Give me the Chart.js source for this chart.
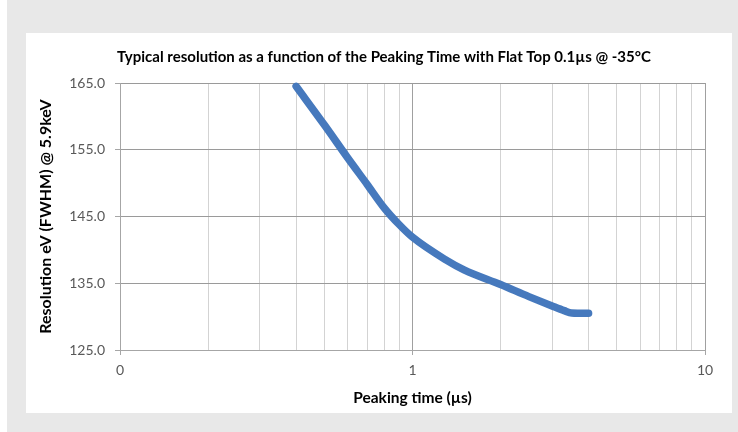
<!DOCTYPE html>
<html>
<head>
<meta charset="utf-8">
<script src="https://cdn.jsdelivr.net/npm/chart.js@4.4.1/dist/chart.umd.min.js"></script>
<style>
  html, body { margin: 0; padding: 0; background: #fff; }
  #frame { position: absolute; left: 7px; top: 0; width: 731px; height: 432px; background: #e8e8e8; }
  #panel { position: absolute; left: 19px; top: 33px; width: 706px; height: 380px; background: #fff; }
  canvas { display: block; }
</style>
</head>
<body>
<div id="frame"><div id="panel"><canvas id="chart" width="706" height="380"></canvas></div></div>
<script>
// Peaking time (µs) and resolution (eV FWHM @ 5.9keV)
const peakingTime = [0.4, 0.5, 0.6, 0.7, 0.8, 0.9, 1.0, 1.3, 1.5, 2.0, 2.5, 3.0, 3.3, 3.5, 4.0]
const resolution = [164.5, 158.7, 153.8, 149.8, 146.3, 143.8, 141.9, 138.5, 137.0, 134.8, 133.0, 131.6, 130.9, 130.55, 130.5]

// log axis grid positions and the labels Excel printed on the decades
const xGridValues = [0.1, 0.2, 0.3, 0.4, 0.5, 0.6, 0.7, 0.8, 0.9, 1, 2, 3, 4, 5, 6, 7, 8, 9, 10]
const xMajorValues = [0.1, 1, 10]
const xMajorLabels = ['0', '1', '10']

const yMin = 125
const yMax = 165
const yStep = 10

const chartTitle = 'Typical resolution as a function of the Peaking Time with Flat Top 0.1µs @ -35°C'
const xTitle = 'Peaking time (µs)'
const yTitle = 'Resolution eV (FWHM) @ 5.9keV'

const fontFamily = "Lato, 'Open Sans', sans-serif"

const isMajor = v => xMajorValues.some(m => Math.abs(m - v) < 1e-9)

const ctx = document.getElementById('chart').getContext('2d')

new Chart(ctx, {
  type: 'line',
  data: {
    datasets: [{
      label: 'Resolution',
      data: peakingTime.map((x, i) => ({ x: x, y: resolution[i] })),
      yAxisID: 'y',
      borderColor: '#4679bd',
      borderWidth: 7.5,
      borderCapStyle: 'round',
      borderJoinStyle: 'round',
      pointRadius: 0,
      cubicInterpolationMode: 'monotone',
      fill: false,
      clip: false
    }]
  },
  options: {
    responsive: false,
    animation: false,
    devicePixelRatio: 1,
    layout: {
      padding: { left: 10, right: 0, top: 0, bottom: 0 }
    },
    plugins: {
      legend: { display: false },
      tooltip: { enabled: false },
      title: {
        display: true,
        text: chartTitle,
        color: '#000000',
        font: { family: fontFamily, size: 15, weight: 'bold' },
        padding: { top: 15, bottom: 17 }
      }
    },
    scales: {
      x: {
        type: 'logarithmic',
        min: 0.1,
        max: 10,
        afterBuildTicks: function(scale) {
          scale.ticks = xGridValues.map(v => ({ value: v, major: isMajor(v) }))
        },
        afterFit: function(scale) {
          scale.height = 63
        },
        border: { display: true, color: '#a6a6a6', width: 1 },
        grid: {
          color: function(c) {
            return c.tick && isMajor(c.tick.value) ? '#a0a0a0' : '#d3d3d3'
          },
          tickColor: function(c) {
            return c.tick && isMajor(c.tick.value) ? '#a6a6a6' : 'rgba(0,0,0,0)'
          },
          tickLength: 5,
          lineWidth: 1
        },
        ticks: {
          autoSkip: false,
          maxRotation: 0,
          padding: 7.5,
          color: '#595959',
          font: { family: fontFamily, size: 14 },
          callback: function(value) {
            const idx = xMajorValues.findIndex(m => Math.abs(m - value) < 1e-9)
            return idx >= 0 ? xMajorLabels[idx] : ''
          }
        },
        title: {
          display: true,
          text: xTitle,
          color: '#000000',
          font: { family: fontFamily, size: 15.5, weight: 'bold' },
          padding: { top: 0, bottom: 5.7 }
        }
      },
      y: {
        type: 'linear',
        position: 'left',
        min: yMin,
        max: yMax,
        afterFit: function(scale) {
          scale.width = 84
        },
        border: { display: true, color: '#a6a6a6', width: 1 },
        grid: {
          color: '#9a9a9a',
          tickColor: '#a6a6a6',
          tickLength: 5,
          lineWidth: 1
        },
        ticks: {
          stepSize: yStep,
          padding: 10,
          color: '#595959',
          font: { family: fontFamily, size: 14 },
          callback: function(value) {
            return value.toFixed(1)
          }
        },
        title: {
          display: true,
          text: yTitle,
          color: '#000000',
          font: { family: fontFamily, size: 16, weight: 'bold' },
          padding: { top: 0, bottom: 0 }
        }
      },
      // empty right-hand gutter so the plot ends where Excel's does
      gutter: {
        type: 'linear',
        position: 'right',
        min: yMin,
        max: yMax,
        afterFit: function(scale) {
          scale.width = 27
        },
        border: { display: false },
        grid: { display: false, drawTicks: false },
        ticks: { display: false }
      }
    }
  }
})
</script>
</body>
</html>
